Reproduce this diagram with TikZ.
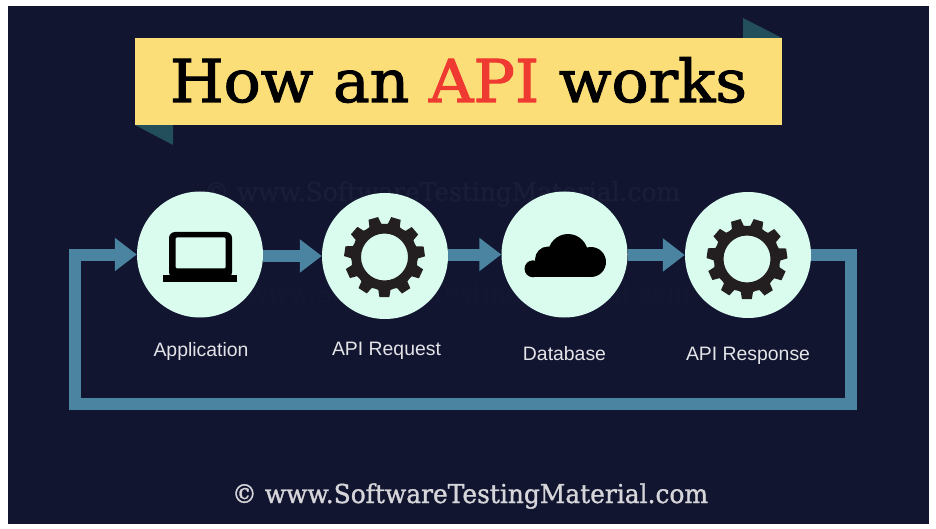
\documentclass[tikz,border=0pt]{standalone}
\usepackage{fontspec}
\usepackage{graphicx}
\setmainfont{Liberation Sans}
\newfontfamily\slabfont[FakeBold=1.8]{DejaVu Serif}
\newfontfamily\footfont[FakeBold=1.2]{DejaVu Serif}
\usetikzlibrary{arrows.meta}
\definecolor{pagebg}{HTML}{111530}
\definecolor{band}{HTML}{4A84A0}
\definecolor{disc}{HTML}{DAFCEF}
\definecolor{ribbon}{HTML}{FBDE78}
\definecolor{fold}{HTML}{234E5C}
\definecolor{apired}{HTML}{EF3A32}
\definecolor{cog}{HTML}{231F20}
\definecolor{labelc}{HTML}{E4E4E8}
\definecolor{footc}{HTML}{D6D6DA}
\definecolor{markone}{HTML}{191D38}
\definecolor{marktwo}{HTML}{131732}
\tikzset{
  stage/.style={circle,fill=disc,minimum size=126pt,inner sep=0pt},
  stagelabel/.style={anchor=base,inner sep=0pt,text=labelc,font=\fontsize{19.4}{23}\selectfont},
  flow/.style={draw=band,line width=12pt,-{Triangle[length=22pt,width=32pt]}},
  gearicon/.pic={
    \fill[cog,even odd rule] (-8-16.36:33)
      \foreach \i in {0,...,10}{
        -- ({-8+\i*360/11-10.5}:33.5) -- ({-8+\i*360/11-7}:40.5) -- ({-8+\i*360/11+7}:40.5) -- ({-8+\i*360/11+10.5}:33.5)
        -- ({-8+\i*360/11+16.36}:33)
      } -- cycle
      (0,0) circle[radius=23.5];
  }
}
\newcommand{\wmtext}{\copyright\ www.SoftwareTestingMaterial.com}
\begin{document}
\begin{tikzpicture}[x=1pt,y=-1pt]
\useasboundingbox (0,0) rectangle (936,529);
\fill[white] (0,0) rectangle (936,529);
\fill[pagebg] (8,6) rectangle (929,524);
% faint watermarks
\node[anchor=base,inner sep=0pt,text=markone] (mark1) at (442,201)
  {\resizebox{476pt}{\height}{\footfont\fontsize{26}{30}\selectfont\wmtext}};
\node[anchor=base,inner sep=0pt,text=marktwo] (mark2) at (452,302)
  {\resizebox{476pt}{\height}{\footfont\fontsize{26}{30}\selectfont\wmtext}};
% ribbon
\fill[fold] (743,18) -- (743,38) -- (782,38) -- cycle;
\fill[fold] (135,125) -- (173,125) -- (173,145) -- cycle;
\node[fill=ribbon,anchor=north west,minimum width=647pt,minimum height=87pt,inner sep=0pt] (banner) at (135,38) {};
\node[anchor=base,inner sep=0pt] (title) at (458.5,102)
  {\resizebox{577pt}{\height}{\slabfont\fontsize{59}{66}\selectfont How an \textcolor{apired}{API} works}};
% loop corners
\coordinate (loopBR) at (850.5,404);
\coordinate (loopBL) at (74.5,404);
% stages
\node[stage] (app) at (200,254.5) {};
\node[stage] (req) at (385,256) {};
\node[stage] (db) at (564.5,254.5) {};
\node[stage] (resp) at (748,255) {};
% connectors
\draw[flow] (app.east |- req.west) -- (req.west);
\draw[flow] (req.east |- db.west) -- (db.west);
\draw[flow] (db.east |- resp.west) -- (resp.west);
\draw[flow] (resp.east) -| (loopBR) -- (loopBL) -- (loopBL |- app.west) -- (app.west);
% laptop
\fill[black,even odd rule,rounded corners=6pt] (169,232) rectangle (232,278)
  [rounded corners=1pt] (175.7,237.5) rectangle (225.7,268.3);
\fill[black] (162.7,275) rectangle (237.3,281.7);
% gears
\pic at (384.5,257) {gearicon};
\pic at (747,259) {gearicon};
% cloud
\fill[black] (568,254) circle[radius=20];
\fill[black] (548,259.5) circle[radius=13];
\fill[black] (591,262) circle[radius=15];
\fill[black] (533,268.8) circle[radius=8.5];
\fill[black] (533,262) rectangle (591,277.3);
% labels
\node[stagelabel] (lapp) at (201,356.5) {Application};
\node[stagelabel] (lreq) at (386.5,355.5) {API Request};
\node[stagelabel] (ldb) at (564.5,360) {Database};
\node[stagelabel] (lresp) at (748,360) {API Response};
% footer
\node[anchor=base,inner sep=0pt,text=footc] (foot) at (470,503)
  {\resizebox{476pt}{\height}{\footfont\fontsize{26}{30}\selectfont\wmtext}};
\end{tikzpicture}
\end{document}
